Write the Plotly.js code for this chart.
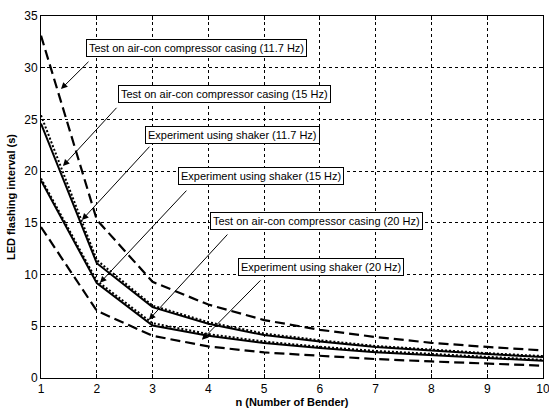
<!DOCTYPE html>
<html>
<head>
<meta charset="utf-8">
<script src="https://cdn.plot.ly/plotly-3.0.1.min.js"></script>
<style>html,body{margin:0;padding:0;background:#fff;}#chart{width:549px;height:410px;}</style>
</head>
<body>
<div id="chart"></div>
<script>
// Number of benders
const nBender = [1, 2, 3, 4, 5, 6, 7, 8, 9, 10];
// LED flashing interval (s)
const airCon117 = [33.1, 15.3, 9.3, 7.1, 5.6, 4.66, 3.96, 3.4, 3.0, 2.67];
const airCon15  = [25.4, 11.4, 7.0, 5.4, 4.3, 3.65, 3.1, 2.73, 2.4, 2.12];
const shaker117 = [24.6, 11.1, 6.85, 5.24, 4.15, 3.53, 3.0, 2.63, 2.31, 2.03];
const shaker15  = [19.1, 9.17, 5.08, 4.08, 3.38, 2.9, 2.5, 2.25, 1.93, 1.67];
const airCon20  = [19.3, 9.4, 5.3, 4.25, 3.52, 3.02, 2.62, 2.35, 2.02, 1.76];
const shaker20  = [14.6, 6.5, 4.08, 3.05, 2.47, 2.15, 1.83, 1.6, 1.38, 1.19];

const xTicks = [1, 2, 3, 4, 5, 6, 7, 8, 9, 10];
const yTicks = [0, 5, 10, 15, 20, 25, 30, 35];

const labels = [
  'Test on air-con compressor casing (11.7 Hz)',
  'Test on air-con compressor casing (15 Hz)',
  'Experiment using shaker (11.7 Hz)',
  'Experiment using shaker (15 Hz)',
  'Test on air-con compressor casing (20 Hz)',
  'Experiment using shaker (20 Hz)'
];

const FONT = 'Liberation Sans, Arial, sans-serif';
const DASH = '10px,5px';
const DOT = '2px,2px';
function tr(y, dash, name, w) {
  return {x: nBender, y: y, type: 'scatter', mode: 'lines', name: name,
    line: {color: '#000', width: w, dash: dash}, hoverinfo: 'skip'};
}
const data = [
  tr(airCon117, DASH, labels[0], 2.2),
  tr(shaker20, DASH, labels[5], 2.2),
  tr(airCon15, DOT, labels[1], 2),
  tr(airCon20, DOT, labels[4], 2),
  tr(shaker117, 'solid', labels[2], 2),
  tr(shaker15, 'solid', labels[3], 2)
];

// box centre, arrow tail, arrow head (data coords)
const annPos = [
  [3.787, 31.93, 1.878, 30.72, 1.358, 27.93],
  [4.289, 27.49, 2.380, 26.28, 1.394, 20.5],
  [4.432, 23.48, 2.971, 22.52, 1.735, 15.28],
  [4.943, 19.53, 3.634, 18.27, 2.057, 9.2],
  [5.937, 15.14, 4.369, 14.03, 2.935, 5.63],
  [6.027, 10.69, 4.961, 9.58, 3.885, 3.70]
];
const annotations = [];
annPos.forEach((p, i) => {
  annotations.push({
    x: p[4], y: p[5], xref: 'x', yref: 'y',
    ax: p[2], ay: p[3], axref: 'x', ayref: 'y',
    text: ' ', font: {size: 1}, showarrow: true,
    arrowhead: 2, arrowsize: 1.3, arrowwidth: 1, arrowcolor: '#000', standoff: 0
  });
  annotations.push({
    x: p[0], y: p[1], xref: 'x', yref: 'y', text: labels[i], showarrow: false,
    font: {family: FONT, size: 11, color: '#000'},
    bgcolor: '#fff', bordercolor: '#000', borderwidth: 1, borderpad: 2
  });
});

const axisCommon = {
  showline: true, linecolor: '#000', linewidth: 1, mirror: 'allticks',
  ticks: 'inside', ticklen: 4, tickcolor: '#000',
  showgrid: true, gridcolor: '#000', gridwidth: 1, griddash: 'dot',
  zeroline: false, ticklabeloverflow: 'allow',
  tickfont: {family: FONT, size: 12, color: '#000'}
};

const layout = {
  width: 549, height: 410, autosize: false,
  margin: {l: 41, r: 6, t: 16, b: 32},
  paper_bgcolor: '#fff', plot_bgcolor: '#fff',
  showlegend: false,
  xaxis: Object.assign({}, axisCommon, {
    range: [1, 10.0001], tickmode: 'array', tickvals: xTicks, ticktext: xTicks.map(String),
    title: {text: 'n (Number of Bender)', standoff: 2,
      font: {family: FONT, size: 11, color: '#000', weight: 'bold'}}
  }),
  yaxis: Object.assign({}, axisCommon, {
    range: [0, 35], tickmode: 'array', tickvals: yTicks, ticktext: yTicks.map(String),
    title: {text: 'LED flashing interval (s)', standoff: 6,
      font: {family: FONT, size: 11, color: '#000', weight: 'bold'}}
  }),
  annotations: annotations
};

Plotly.newPlot('chart', data, layout, {displayModeBar: false, staticPlot: true});
</script>
</body>
</html>
